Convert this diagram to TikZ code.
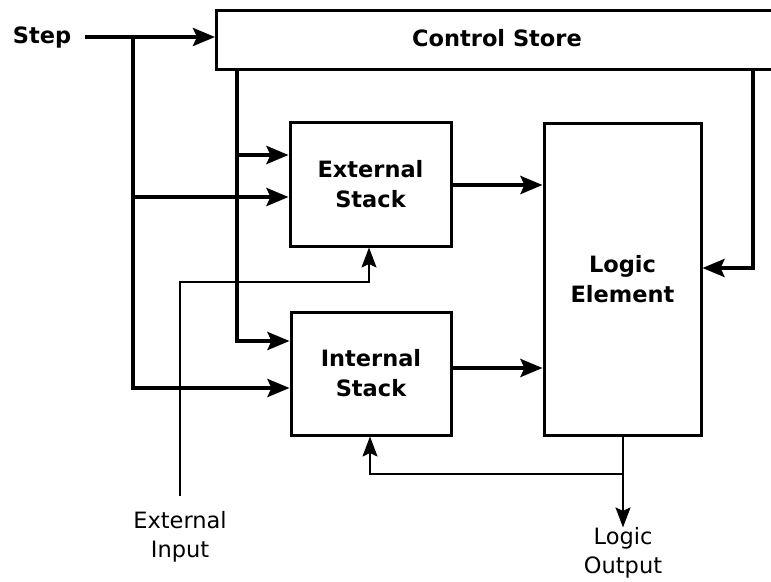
\documentclass[tikz,border=0pt]{standalone}
\usepackage{fontspec}
\setmainfont{DejaVu Sans}
\usetikzlibrary{arrows.meta}
\begin{document}
\begin{tikzpicture}[x=1pt,y=-1pt,
  block/.style={draw,line width=3pt,font=\fontsize{22.5}{30}\selectfont\bfseries,align=center,inner sep=0pt},
  heavy/.style={line width=4pt,-{Stealth[length=22pt,width=18pt,inset=4pt]}},
  heavyline/.style={line width=4pt},
  light/.style={line width=1.7pt,-{Stealth[length=20pt,width=15pt,inset=3.5pt]}},
  plain/.style={font=\fontsize{22.5}{29}\selectfont,align=center,inner sep=0pt}]
\clip (0,0) rectangle (771,581);
% blocks
\node[block,minimum width=562pt,minimum height=59pt,anchor=north west] (cs) at (215,9) {};
\node[font=\fontsize{22.5}{30}\selectfont\bfseries] (cslabel) at (497,38) {Control Store};
\node[block,minimum width=161pt,minimum height=124pt] (ext) at (370.5,184) {External\\Stack};
\node[block,minimum width=160pt,minimum height=123pt] (int) at (371,373.5) {Internal\\Stack};
\node[block,minimum width=157pt,minimum height=312pt] (logic) at (622.5,279) {Logic\\Element};
% labels
\node[font=\fontsize{22.5}{30}\selectfont\bfseries,inner sep=0pt,outer sep=14pt] (step) at (42,37) {Step};
\node[plain] (extin) at (180,537) {External\\Input};
\node[plain] (logout) at (623,553) {Logic\\Output};
% junction points
\coordinate (s1) at (133,37);
\coordinate (c1) at (237,68);
\coordinate (c2) at (753,68);
\coordinate (l1) at (623,474);
\coordinate (e1) at (180,282);
% step input
\draw[heavy] (step.east) -- (cs.west |- step.east);
\draw[heavyline] (s1) -- (133,388);
\draw[heavy] (131,388) -- (int.west |- 0,388);
\draw[heavy] (131,197) -- (ext.west |- 0,197);
% control store outputs
\draw[heavyline] (c1) -- (237,341);
\draw[heavy] (235,341) -- (int.west |- 0,341);
\draw[heavy] (237,155) -- (ext.west |- 0,155);
\draw[heavy] (c2) |- (logic.east |- 0,268);
% stacks to logic element
\draw[heavy] (ext.east |- 0,185) -- (logic.west |- 0,185);
\draw[heavy] (int.east |- 0,368) -- (logic.west |- 0,368);
% logic output and feedback
\draw[light] (logic.south -| l1) -- (logout.north);
\draw[light] (l1) -| (int.south -| 370,0);
% external input
\draw[light] (extin.north) ++(0,-15) -- (e1) -| (ext.south -| 369,0);
\end{tikzpicture}
\end{document}
